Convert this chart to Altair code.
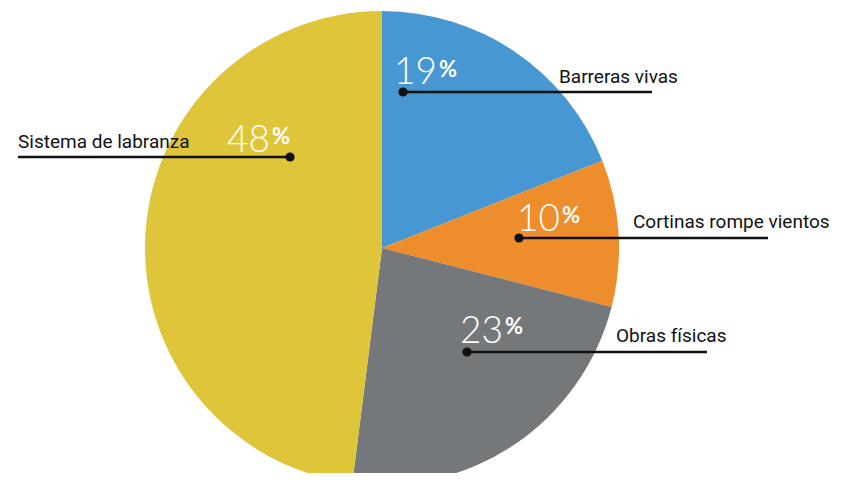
import altair as alt
import pandas as pd

# ---- data ----
categories = ["Barreras vivas", "Cortinas rompe vientos", "Obras físicas", "Sistema de labranza"]
shares = [19, 10, 23, 48]
colors = ["#4697D2", "#EE8D2B", "#75787B", "#DFC53A"]

# ---- annotation layout (page pixels) ----
dot_x = [403, 519, 467, 290]
dot_y = [92, 238, 352, 157]
line_x1 = [403, 519, 467, 18]
line_x2 = [652, 768, 707, 290]
name_x = [559, 633, 616, 18]
name_y = [83, 228, 342, 148]
pct_x = [439, 562, 505, 272]
num_y = [84, 231, 343, 152]
pct_y = [77, 223, 334, 144]

M = 8  # page margin
W, H = 829, 465
CX, CY, R = 382 - M, 248 - M, 237

pie_df = pd.DataFrame({"cat": categories, "val": shares, "ord": list(range(len(categories)))})

ann = pd.DataFrame({
    "cat": categories,
    "num": [str(v) for v in shares],
    "dx": [v - M for v in dot_x],
    "dy": [v - M for v in dot_y],
    "lx1": [v - M for v in line_x1],
    "lx2": [v - M for v in line_x2],
    "nx": [v - M for v in name_x],
    "ny": [v - M for v in name_y],
    "px": [v - M for v in pct_x],
    "numx": [v - M - 2 for v in pct_x],
    "numy": [v - M for v in num_y],
    "py": [v - M for v in pct_y],
})

pie = alt.Chart(pie_df).mark_arc(outerRadius=R, strokeWidth=0).encode(
    theta=alt.Theta("val:Q", stack=True),
    order=alt.Order("ord:Q"),
    color=alt.Color("cat:N", scale=alt.Scale(domain=categories, range=colors), legend=None),
    x=alt.value(CX),
    y=alt.value(CY),
)

base = alt.Chart(ann)

lines = base.mark_rule(color="#111111", strokeWidth=2.5).encode(
    x=alt.X("lx1:Q", scale=None),
    x2="lx2:Q",
    y=alt.Y("dy:Q", scale=None),
)

dots = base.mark_circle(color="#111111", size=85, opacity=1).encode(
    x=alt.X("dx:Q", scale=None),
    y=alt.Y("dy:Q", scale=None),
)

names = base.mark_text(
    align="left", baseline="alphabetic", fontSize=19,
    font="Roboto, Liberation Sans Narrow, sans-serif", color="#111111",
).encode(
    x=alt.X("nx:Q", scale=None),
    y=alt.Y("ny:Q", scale=None),
    text="cat:N",
)

nums = base.mark_text(
    align="right", baseline="alphabetic", fontSize=37, fontWeight=300,
    font="Lato, Roboto, sans-serif", color="white",
).encode(
    x=alt.X("numx:Q", scale=None),
    y=alt.Y("numy:Q", scale=None),
    text="num:N",
)

pcts = base.mark_text(
    align="left", baseline="alphabetic", fontSize=22, fontWeight="bold",
    font="Lato, Roboto, sans-serif", color="white",
).encode(
    x=alt.X("px:Q", scale=None),
    y=alt.Y("py:Q", scale=None),
    text=alt.value("%"),
)

chart = alt.layer(pie, lines, dots, names, nums, pcts).properties(
    width=W, height=H, padding=0, autosize="none", background="white",
).configure_view(stroke=None)

chart.save("out.html", embed_options={"renderer": "svg", "actions": False})
